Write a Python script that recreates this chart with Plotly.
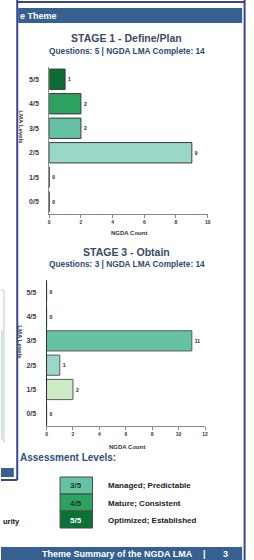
import plotly.graph_objects as go

W, H = 254, 560

# ---------------- data ----------------
levels = ['0/5', '1/5', '2/5', '3/5', '4/5', '5/5']
stage1_counts = [0, 0, 9, 2, 2, 1]
stage3_counts = [0, 2, 1, 11, 0, 0]
level_colors = ['#EDF8E9', '#CCEBC5', '#99D8C9', '#66C2A4', '#2CA25F', '#0B6B32']
stage1_title = 'STAGE 1 - Define/Plan'
stage1_sub = 'Questions: 5 | NGDA LMA Complete: 14'
stage3_title = 'STAGE 3 - Obtain'
stage3_sub = 'Questions: 3 | NGDA LMA Complete: 14'
x1_ticks = [0, 2, 4, 6, 8, 10]
x3_ticks = [0, 2, 4, 6, 8, 10, 12]
legend_levels = ['3/5', '4/5', '5/5']
legend_labels = ['Managed; Predictable', 'Mature; Consistent', 'Optimized; Established']
legend_colors = ['#66C2A4', '#2CA25F', '#0B7236']
legend_text_colors = ['#1f3a2a', '#1f3a2a', '#ffffff']

FONT = 'Liberation Sans'
NAVY = '#3D4592'
BAR_BLUE = '#36608F'


def px(x):
    return x / W


def py(y):
    return 1 - y / H


fig = go.Figure()

fig.add_trace(go.Bar(
    x=stage1_counts, y=levels, orientation='h',
    marker=dict(color=level_colors, line=dict(color='#3a3a3a', width=1)),
    text=[str(v) for v in stage1_counts], textposition='outside',
    textfont=dict(size=5, color='#222222', family=FONT, weight='bold'),
    constraintext='none', cliponaxis=False,
    xaxis='x', yaxis='y', showlegend=False, hoverinfo='skip'))

fig.add_trace(go.Bar(
    x=stage3_counts, y=levels, orientation='h',
    marker=dict(color=level_colors, line=dict(color='#5a5a5a', width=1)),
    text=[str(v) for v in stage3_counts], textposition='outside',
    textfont=dict(size=5, color='#222222', family=FONT, weight='bold'),
    constraintext='none', cliponaxis=False,
    xaxis='x2', yaxis='y2', showlegend=False, hoverinfo='skip'))

xcommon = dict(showgrid=False, zeroline=False, showline=True, linecolor='#888888',
               linewidth=1, ticks='outside', ticklen=3, tickcolor='#888888',
               tickfont=dict(size=5, color='#333333', family=FONT, weight='bold'),
               fixedrange=True)
ycommon = dict(showgrid=False, zeroline=False, showline=True,
               linewidth=1, ticks='', categoryorder='array', categoryarray=levels,
               tickfont=dict(size=7, color='#3a3a3a', family=FONT, weight='bold'),
               ticklabelstandoff=8, fixedrange=True)

fig.update_layout(
    width=W, height=H, margin=dict(l=0, r=0, t=0, b=0),
    paper_bgcolor='white', plot_bgcolor='white', bargap=0.17,
    font=dict(family=FONT),
    xaxis=dict(domain=[px(49), px(210)], range=[0, 10], tickvals=x1_ticks,
               anchor='y', **xcommon),
    yaxis=dict(domain=[py(214), py(67)], anchor='x', linecolor='#8a8a8a', **ycommon),
    xaxis2=dict(domain=[px(46.3), px(207.3)], range=[0, 12], tickvals=x3_ticks,
                anchor='y2', **xcommon),
    yaxis2=dict(domain=[py(426), py(280)], anchor='x2', linecolor='#333333', **ycommon),
)

shapes = []


def rect(x0, y0, x1, y1, fill, line_color=None, lw=0):
    shapes.append(dict(type='rect', xref='paper', yref='paper',
                       x0=px(x0), x1=px(x1), y0=py(y1), y1=py(y0),
                       fillcolor=fill, line=dict(color=line_color or fill, width=lw),
                       layer='below'))


def line(x0, y0, x1, y1, color, lw):
    shapes.append(dict(type='line', xref='paper', yref='paper',
                       x0=px(x0), x1=px(x1), y0=py(y0), y1=py(y1),
                       line=dict(color=color, width=lw)))


# page frame
line(16.5, 0, 16.5, 480, NAVY, 2)
line(16, 2, 248, 2, NAVY, 2)
line(247.5, 0, 247.5, 560, NAVY, 2)
line(0, 480, 16.5, 480, NAVY, 2)
# header / footer bars
rect(17.5, 8, 245, 23, BAR_BLUE)
rect(0, 468, 13, 477, BAR_BLUE)
rect(0, 547, 245, 560, BAR_BLUE)
# partial neighbouring chart at far left
line(0, 290, 3, 290, '#C8C8C8', 1)
line(3, 290, 3, 443, '#C8C8C8', 1)
rect(0, 330, 2, 440, '#CFE9D6')

# assessment legend boxes
for i, (lv, col) in enumerate(zip(legend_levels, legend_colors)):
    y0 = 477 + i * 17
    rect(60, y0, 93, y0 + 17, col, '#4a4a4a', 1)

fig.update_layout(shapes=shapes)

ann = []


def text(x, y, s, size, color, xanchor='center', bold=True, angle=0):
    ann.append(dict(x=px(x), y=py(y), xref='paper', yref='paper', text=s,
                    showarrow=False, xanchor=xanchor, yanchor='middle',
                    textangle=angle,
                    font=dict(size=size, color=color, family=FONT,
                              weight='bold' if bold else 'normal')))


text(17.5, 15.5, 'e Theme', 9, 'white', xanchor='left')
text(127, 38, stage1_title, 10.5, '#3A4A63')
text(128, 51, stage1_sub, 8.3, '#2E4A72')
text(20, 127, 'LMA Levels', 6, '#333333', angle=90)
text(130, 233, 'NGDA Count', 6, '#333333')

text(127.5, 252, stage3_title, 10.5, '#3A4A63')
text(128, 264, stage3_sub, 8.3, '#2E4A72')
text(19, 342, 'LMA Levels', 6, '#333333', angle=90)
text(128, 447, 'NGDA Count', 6, '#333333')

text(17, 457, 'Assessment Levels:', 10, '#2F4E80', xanchor='left')
for i, (lv, lab, tc) in enumerate(zip(legend_levels, legend_labels, legend_text_colors)):
    yc = 485.5 + i * 17.5
    text(76.5, yc, lv, 8, tc)
    text(107, yc, lab, 8, '#222222', xanchor='left')

text(0, 521, 'urity', 7.5, '#111111', xanchor='left')
text(197, 553.5, 'Theme Summary of the NGDA LMA', 9, 'white', xanchor='right')
text(207, 553.5, '|', 9, 'white')
text(228, 553.5, '3', 9, 'white')

fig.update_layout(annotations=ann)

fig.write_html('out.html', config={'displayModeBar': False},
               post_script="document.body.style.margin='0';document.body.style.padding='0';document.body.style.overflow='hidden';")
